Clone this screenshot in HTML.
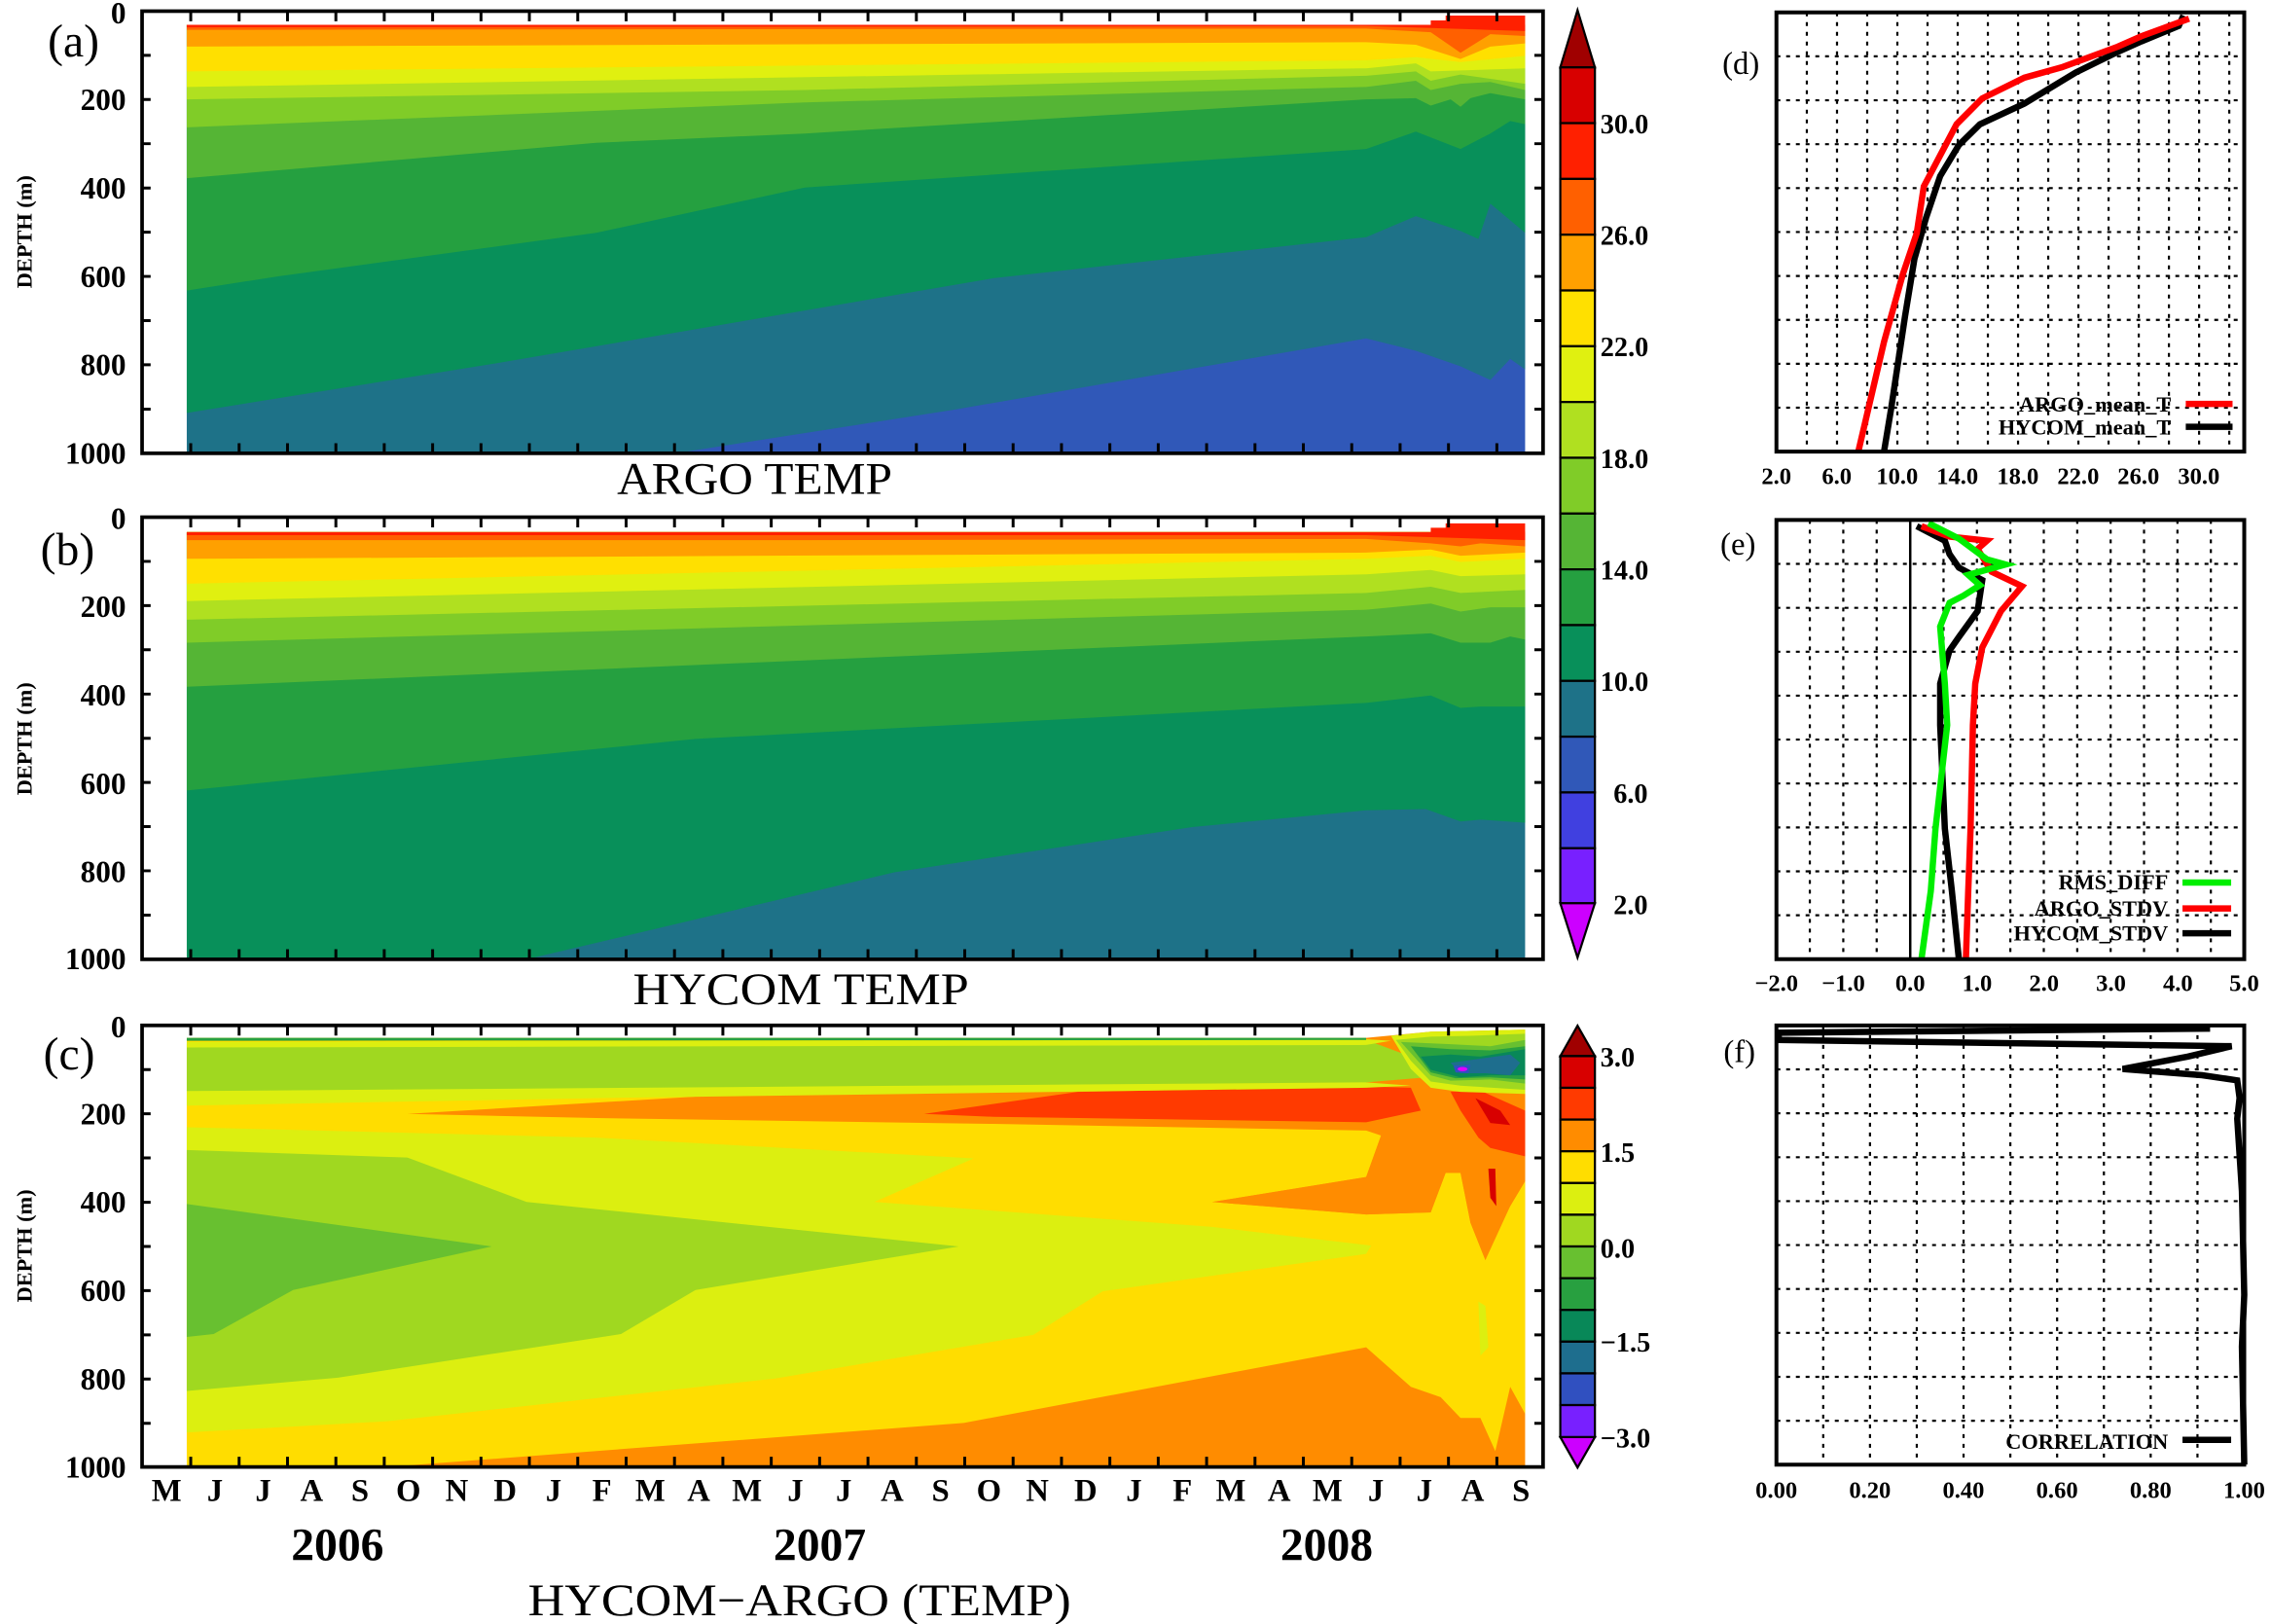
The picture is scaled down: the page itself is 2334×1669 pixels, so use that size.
<!DOCTYPE html>
<html><head><meta charset="utf-8"><style>
html,body{margin:0;padding:0;background:#fff;}
svg{display:block;}
text{font-family:"Liberation Serif",serif;font-weight:bold;fill:#000;}
</style></head><body>
<svg width="2334" height="1669" viewBox="0 0 1568 1121" preserveAspectRatio="none" xmlns="http://www.w3.org/2000/svg">
<rect x="0" y="0" width="1568" height="1121" fill="#fff"/>

<g transform="matrix(0.686,0,0,0.4286,0,0)">
 <rect x="188" y="40" width="1347" height="690" fill="#3058b8"/>
 <polygon fill="#1e7288" points="188,40 1535,40 1535,595 1520,578 1500,612 1470,590 1425,565 1375,545 960,660 680,730 188,730"/>
 <polygon fill="#08905a" points="188,40 1535,40 1535,375 1500,328 1488,385 1470,372 1425,348 1375,382 1000,448 500,585 188,665"/>
 <polygon fill="#25a040" points="188,40 1535,40 1535,200 1520,195 1500,215 1470,240 1425,212 1375,240 810,302 600,375 280,445 188,468"/>
 <polygon fill="#55b535" points="188,40 1535,40 1535,160 1500,150 1480,158 1470,172 1460,160 1440,170 1425,158 1375,160 810,215 600,230 188,287"/>
 <polygon fill="#80cc28" points="188,40 1535,40 1535,145 1500,132 1470,135 1440,145 1425,130 1375,140 810,165 188,205"/>
 <polygon fill="#b0e020" points="188,40 1535,40 1535,135 1470,120 1440,130 1425,115 1375,122 810,145 188,160"/>
 <polygon fill="#e0f010" points="188,40 1535,40 1535,110 1440,115 1425,102 1375,110 188,140"/>
 <polygon fill="#ffe000" points="188,40 1535,40 1535,90 1470,100 1425,92 1375,97 188,115"/>
 <polygon fill="#ffa000" points="188,40 1535,40 1535,70 1500,75 1470,95 1425,72 1375,68 188,75"/>
 <polygon fill="#ff6000" points="188,40 1535,40 1535,58 1500,55 1470,85 1440,52 1375,46 188,48"/>
 <polygon fill="#ff2000" points="188,40 1440,40 1440,33 1455,33 1455,25 1535,25 1535,50 1440,45 1375,42 188,44"/>

 <rect x="188" y="857" width="1347" height="688" fill="#1e7288"/>
 <polygon fill="#08905a" points="188,857 1535,857 1535,1325 1490,1320 1470,1323 1435,1303 1375,1305 1200,1332 900,1405 530,1545 188,1545"/>
 <polygon fill="#25a040" points="188,857 1535,857 1535,1138 1490,1138 1470,1140 1440,1120 1375,1132 700,1190 188,1273"/>
 <polygon fill="#55b535" points="188,857 1535,857 1535,1030 1520,1025 1500,1035 1470,1035 1440,1020 1375,1025 188,1106"/>
 <polygon fill="#80cc28" points="188,857 1535,857 1535,978 1500,978 1470,985 1440,972 1375,982 188,1035"/>
 <polygon fill="#b0e020" points="188,857 1535,857 1535,950 1470,955 1440,945 1375,955 188,998"/>
 <polygon fill="#e0f010" points="188,857 1535,857 1535,925 1470,928 1440,918 1375,925 188,968"/>
 <polygon fill="#ffe000" points="188,857 1535,857 1535,900 1470,905 1440,895 1375,900 188,940"/>
 <polygon fill="#ffa000" points="188,857 1535,857 1535,890 1470,895 1440,885 1375,890 188,900"/>
 <polygon fill="#ff6000" points="188,857 1535,857 1535,880 1490,875 1470,880 1440,875 1375,868 810,870 188,870"/>
 <polygon fill="#ff2000" points="188,857 1440,857 1440,850 1455,850 1455,843 1535,843 1535,870 1440,865 1375,862 188,862"/>
</g>

<g transform="matrix(0.686,0,0,0.2867,0,672)">
 <polygon fill="#ff8c00" points="188,155 1375,155 1440,140 1535,135 1535,1188 188,1188"/>
 <polygon fill="#ffdd00" points="188,155 1375,155 1375,330 1390,390 1375,490 1220,550 1375,580 1440,575 1455,480 1470,480 1480,600 1495,690 1510,600 1520,560 1535,500 1535,1060 1520,995 1505,1150 1490,1070 1470,1070 1450,1020 1420,995 1375,900 970,1082 390,1188 188,1188"/>
 <polygon fill="#dcef10" points="188,370 600,395 980,445 880,550 1220,610 1380,655 1375,675 1110,765 1040,870 780,975 390,1078 188,1105"/>
 <polygon fill="#ff8c00" points="410,338 780,285 1375,270 1430,260 1535,290 1535,500 1520,560 1495,690 1480,600 1470,480 1455,480 1440,575 1375,580 1220,550 1375,490 1390,390 1375,378 1000,362 600,348"/>
 <polygon fill="#ff3a00" points="930,338 1085,285 1375,272 1420,275 1430,330 1375,358 1000,345"/>
 <polygon fill="#ff3a00" points="1460,285 1490,282 1535,330 1535,440 1500,420 1488,395 1470,330"/>
 <polygon fill="#d80000" points="1485,300 1510,330 1520,365 1500,360"/>
 <polygon fill="#d80000" points="1498,470 1505,470 1506,560 1500,540"/>
 <polygon fill="#dcef10" points="188,280 1375,262 1420,270 1375,275 600,300 188,318"/>
 <polygon fill="#a0d820" points="188,170 1375,160 1420,200 1435,250 1375,262 188,283"/>
 <polygon fill="#dcef10" points="188,165 1375,158 1400,162 1375,172 188,178"/>
 <polygon fill="#28a040" points="188,155 1375,155 1375,160 188,162"/>
 <polygon fill="#a0d820" points="188,425 410,443 530,550 965,657 700,762 625,868 340,973 188,1005"/>
 <polygon fill="#68c030" points="188,555 495,657 295,762 215,868 188,875"/>
 <polygon fill="#dcef10" points="1488,790 1495,800 1498,900 1490,920"/>
 <polygon fill="#dcef10" points="1400,150 1440,140 1535,135 1535,290 1470,285 1440,275 1420,230"/>
 <polygon fill="#a0d820" points="1405,160 1440,152 1480,150 1535,145 1535,280 1470,270 1440,260 1420,210"/>
 <polygon fill="#68c030" points="1410,165 1460,170 1500,175 1535,160 1535,265 1500,255 1460,258 1440,245"/>
 <polygon fill="#28a040" points="1420,175 1460,182 1500,185 1535,175 1535,255 1500,250 1465,252 1440,238"/>
 <polygon fill="#088858" points="1430,200 1460,195 1490,200 1535,182 1535,245 1500,245 1470,250 1440,232"/>
 <polygon fill="#1e6e8e" points="1460,215 1490,205 1520,195 1530,215 1520,245 1495,240 1470,240"/>
 <polygon fill="#3050c0" points="1463,222 1480,220 1478,240 1465,238"/>
 <circle cx="1472" cy="230" r="5" fill="#e000ff"/>
</g>

<g fill="none" stroke="#000" stroke-width="2.5">
 <rect x="98.1" y="7.7" width="967.3" height="305.2"/>
 <rect x="98.1" y="357" width="967.3" height="305.2"/>
 <rect x="98.1" y="707.8" width="967.3" height="304.8"/>
</g>
<g stroke="#000" stroke-width="2">
 <path id="mt" d="M131.7,7.7v7 M165.1,7.7v7 M198.5,7.7v7 M231.9,7.7v7 M265.3,7.7v7 M298.7,7.7v7 M332.1,7.7v7 M365.5,7.7v7 M398.9,7.7v7 M432.3,7.7v7 M465.7,7.7v7 M499.1,7.7v7 M532.5,7.7v7 M565.9,7.7v7 M599.3,7.7v7 M632.7,7.7v7 M666.1,7.7v7 M699.5,7.7v7 M732.9,7.7v7 M766.3,7.7v7 M799.7,7.7v7 M833.1,7.7v7 M866.5,7.7v7 M899.9,7.7v7 M933.3,7.7v7 M966.7,7.7v7 M1000.1,7.7v7 M1033.5,7.7v7"/>
 <path id="mb" d="M131.7,312.9v-7 M165.1,312.9v-7 M198.5,312.9v-7 M231.9,312.9v-7 M265.3,312.9v-7 M298.7,312.9v-7 M332.1,312.9v-7 M365.5,312.9v-7 M398.9,312.9v-7 M432.3,312.9v-7 M465.7,312.9v-7 M499.1,312.9v-7 M532.5,312.9v-7 M565.9,312.9v-7 M599.3,312.9v-7 M632.7,312.9v-7 M666.1,312.9v-7 M699.5,312.9v-7 M732.9,312.9v-7 M766.3,312.9v-7 M799.7,312.9v-7 M833.1,312.9v-7 M866.5,312.9v-7 M899.9,312.9v-7 M933.3,312.9v-7 M966.7,312.9v-7 M1000.1,312.9v-7 M1033.5,312.9v-7"/>
 <use href="#mt" transform="translate(0,349.3)"/>
 <use href="#mb" transform="translate(0,349.3)"/>
 <use href="#mt" transform="translate(0,700.1)"/>
 <use href="#mb" transform="translate(0,699.7)"/>
 <path id="yt" d="M98,38.2h6 M98,68.7h6 M98,99.2h6 M98,129.8h6 M98,160.3h6 M98,190.8h6 M98,221.3h6 M98,251.8h6 M98,282.4h6 M1065.4,38.2h-6 M1065.4,68.7h-6 M1065.4,99.2h-6 M1065.4,129.8h-6 M1065.4,160.3h-6 M1065.4,190.8h-6 M1065.4,221.3h-6 M1065.4,251.8h-6 M1065.4,282.4h-6"/>
 <use href="#yt" transform="translate(0,349.3)"/>
 <use href="#yt" transform="translate(0,700.1)"/>
</g>

<g font-size="21" text-anchor="end">
 <text x="87" y="16">0</text><text x="87" y="76">200</text><text x="87" y="137">400</text><text x="87" y="198">600</text><text x="87" y="259">800</text><text x="87" y="320">1000</text>
 <text x="87" y="365">0</text><text x="87" y="426">200</text><text x="87" y="487">400</text><text x="87" y="548">600</text><text x="87" y="609">800</text><text x="87" y="669">1000</text>
 <text x="87" y="716">0</text><text x="87" y="776">200</text><text x="87" y="837">400</text><text x="87" y="898">600</text><text x="87" y="959">800</text><text x="87" y="1020">1000</text>
</g>
<g font-size="15">
 <text transform="translate(22,160) rotate(-90)" text-anchor="middle">DEPTH (m)</text>
 <text transform="translate(22,510) rotate(-90)" text-anchor="middle">DEPTH (m)</text>
 <text transform="translate(22,860) rotate(-90)" text-anchor="middle">DEPTH (m)</text>
</g>
<g font-size="32">
 <text x="33" y="39" style="font-weight:normal">(a)</text>
 <text x="28" y="390" style="font-weight:normal">(b)</text>
 <text x="30" y="738" style="font-weight:normal">(c)</text>
</g>
<g font-size="31" text-anchor="middle">
 <text x="521" y="341" style="font-weight:normal" textLength="190" lengthAdjust="spacingAndGlyphs">ARGO TEMP</text>
 <text x="553" y="693" style="font-weight:normal" textLength="232" lengthAdjust="spacingAndGlyphs">HYCOM TEMP</text>
 <text x="552" y="1115" style="font-weight:normal" textLength="375" lengthAdjust="spacingAndGlyphs">HYCOM−ARGO (TEMP)</text>
</g>
<g font-size="22" text-anchor="middle">
 <text x="115" y="1036">M</text><text x="148.4" y="1036">J</text><text x="181.8" y="1036">J</text><text x="215.2" y="1036">A</text><text x="248.6" y="1036">S</text><text x="282" y="1036">O</text><text x="315.4" y="1036">N</text><text x="348.8" y="1036">D</text><text x="382.2" y="1036">J</text><text x="415.6" y="1036">F</text><text x="449" y="1036">M</text><text x="482.4" y="1036">A</text><text x="515.8" y="1036">M</text><text x="549.2" y="1036">J</text><text x="582.6" y="1036">J</text><text x="616" y="1036">A</text><text x="649.4" y="1036">S</text><text x="682.8" y="1036">O</text><text x="716.2" y="1036">N</text><text x="749.6" y="1036">D</text><text x="783" y="1036">J</text><text x="816.4" y="1036">F</text><text x="849.8" y="1036">M</text><text x="883.2" y="1036">A</text><text x="916.6" y="1036">M</text><text x="950" y="1036">J</text><text x="983.4" y="1036">J</text><text x="1016.8" y="1036">A</text><text x="1050.2" y="1036">S</text>
</g>
<g font-size="32" text-anchor="middle">
 <text x="233" y="1077">2006</text><text x="566" y="1077">2007</text><text x="916" y="1077">2008</text>
</g>

<g stroke="#000" stroke-width="1.5">
 <polygon points="1077.3,46.5 1089.2,7 1101.2,46.5" fill="#a00000"/>
 <rect x="1077.3" y="46.5" width="23.9" height="38.5" fill="#d80000"/>
 <rect x="1077.3" y="85" width="23.9" height="38.5" fill="#ff2000"/>
 <rect x="1077.3" y="123.5" width="23.9" height="38.5" fill="#ff6000"/>
 <rect x="1077.3" y="162" width="23.9" height="38.5" fill="#ffa000"/>
 <rect x="1077.3" y="200.5" width="23.9" height="38.5" fill="#ffe000"/>
 <rect x="1077.3" y="239" width="23.9" height="38.5" fill="#e0f010"/>
 <rect x="1077.3" y="277.5" width="23.9" height="38.5" fill="#b0e020"/>
 <rect x="1077.3" y="316" width="23.9" height="38.5" fill="#80cc28"/>
 <rect x="1077.3" y="354.5" width="23.9" height="38.5" fill="#55b535"/>
 <rect x="1077.3" y="393" width="23.9" height="38.5" fill="#25a040"/>
 <rect x="1077.3" y="431.5" width="23.9" height="38.5" fill="#08905a"/>
 <rect x="1077.3" y="470" width="23.9" height="38.5" fill="#1e7288"/>
 <rect x="1077.3" y="508.5" width="23.9" height="38.5" fill="#3058b8"/>
 <rect x="1077.3" y="547" width="23.9" height="38.5" fill="#4040e0"/>
 <rect x="1077.3" y="585.5" width="23.9" height="38" fill="#7820ff"/>
 <polygon points="1077.3,623.5 1089.2,661 1101.2,623.5" fill="#cc00ff"/>
</g>
<g font-size="19">
 <text x="1105" y="92">30.0</text><text x="1105" y="169">26.0</text><text x="1105" y="246">22.0</text><text x="1105" y="323">18.0</text><text x="1105" y="400">14.0</text><text x="1105" y="477">10.0</text><text x="1114" y="554">6.0</text><text x="1114" y="631">2.0</text>
</g>
<g stroke="#000" stroke-width="1.5">
 <polygon points="1077.3,729 1089.2,708 1101.2,729" fill="#a00000"/>
 <rect x="1077.3" y="729" width="23.9" height="21.9" fill="#d80000"/>
 <rect x="1077.3" y="750.9" width="23.9" height="21.9" fill="#ff3a00"/>
 <rect x="1077.3" y="772.8" width="23.9" height="21.9" fill="#ff8c00"/>
 <rect x="1077.3" y="794.7" width="23.9" height="21.9" fill="#ffdd00"/>
 <rect x="1077.3" y="816.6" width="23.9" height="21.9" fill="#dcef10"/>
 <rect x="1077.3" y="838.5" width="23.9" height="21.9" fill="#a0d820"/>
 <rect x="1077.3" y="860.4" width="23.9" height="21.9" fill="#68c030"/>
 <rect x="1077.3" y="882.3" width="23.9" height="21.9" fill="#28a040"/>
 <rect x="1077.3" y="904.2" width="23.9" height="21.9" fill="#088858"/>
 <rect x="1077.3" y="926.1" width="23.9" height="21.9" fill="#1e6e8e"/>
 <rect x="1077.3" y="948" width="23.9" height="21.9" fill="#3050c0"/>
 <rect x="1077.3" y="969.9" width="23.9" height="22.1" fill="#7820ff"/>
 <polygon points="1077.3,992 1089.2,1013 1101.2,992" fill="#cc00ff"/>
</g>
<g font-size="19">
 <text x="1105" y="736">3.0</text><text x="1105" y="802">1.5</text><text x="1105" y="868">0.0</text><text x="1105" y="933">−1.5</text><text x="1105" y="999">−3.0</text>
</g>

<g transform="matrix(0.323,0,0,0.715,1061.8,0)" fill="none">
 <g stroke="#000" stroke-width="2.2" stroke-dasharray="4,6">
  <path vector-effect="non-scaling-stroke" d="M575,12V436 M639.5,12V436 M704,12V436 M768.5,12V436 M833,12V436 M897.5,12V436 M962,12V436 M1026.5,12V436 M1091,12V436 M1155.5,12V436 M1220,12V436 M1284.5,12V436 M1349,12V436 M1413.5,12V436 M1478,12V436"/>
  <path vector-effect="non-scaling-stroke" d="M510,54.4H1510 M510,96.8H1510 M510,139.2H1510 M510,181.6H1510 M510,224H1510 M510,266.4H1510 M510,308.8H1510 M510,351.2H1510 M510,393.6H1510"/>
  <path vector-effect="non-scaling-stroke" d="M581.4,502V926 M652.9,502V926 M724.3,502V926 M867.2,502V926 M938.6,502V926 M1010,502V926 M1081.5,502V926 M1153,502V926 M1224.4,502V926 M1295.8,502V926 M1367.2,502V926 M1438.6,502V926"/>
  <path vector-effect="non-scaling-stroke" d="M510,544.4H1510 M510,586.8H1510 M510,629.2H1510 M510,671.6H1510 M510,714H1510 M510,756.4H1510 M510,798.8H1510 M510,841.2H1510 M510,883.6H1510"/>
  <path vector-effect="non-scaling-stroke" d="M610,990V1414 M710,990V1414 M810,990V1414 M910,990V1414 M1010,990V1414 M1110,990V1414 M1210,990V1414 M1310,990V1414 M1410,990V1414"/>
  <path vector-effect="non-scaling-stroke" d="M510,1032.4H1510 M510,1074.8H1510 M510,1117.2H1510 M510,1159.6H1510 M510,1202H1510 M510,1244.4H1510 M510,1286.8H1510 M510,1329.2H1510 M510,1371.6H1510"/>
 </g>
 <path vector-effect="non-scaling-stroke" stroke="#000" stroke-width="2.5" d="M796,502V926"/>
 <polyline vector-effect="non-scaling-stroke" stroke="#000" stroke-width="6.5" points="1380,15 1370,25 1290,40 1240,50 1150,70 1040,100 945,120 900,140 860,170 830,210 805,250 785,305 770,350 755,395 740,436"/>
 <polyline vector-effect="non-scaling-stroke" stroke="#ff0000" stroke-width="6.5" points="1392,18 1350,25 1290,35 1240,45 1180,55 1120,65 1040,75 950,95 895,120 860,150 825,180 810,225 780,265 740,330 685,436"/>
 <polyline vector-effect="non-scaling-stroke" stroke="#000" stroke-width="6.5" points="810,508 870,522 880,535 900,548 950,560 940,590 900,615 880,628 860,660 860,700 870,800 885,860 900,926"/>
 <polyline vector-effect="non-scaling-stroke" stroke="#ff0000" stroke-width="6.5" points="820,508 880,518 960,522 940,530 970,552 1035,566 990,590 950,625 935,660 930,700 925,800 920,860 915,926"/>
 <polyline vector-effect="non-scaling-stroke" stroke="#00ee00" stroke-width="6.5" points="835,505 900,520 960,540 1000,545 920,555 945,565 910,575 880,582 860,605 870,660 875,700 860,760 850,800 840,860 820,926"/>
 <polyline vector-effect="non-scaling-stroke" stroke="#000" stroke-width="6.5" points="1437,993 515,997 515,1004 1483,1010 1390,1020 1250,1032 1420,1038 1495,1043 1500,1060 1495,1080 1505,1150 1510,1250 1505,1300 1510,1414"/>
 <g stroke-width="6.5">
  <path vector-effect="non-scaling-stroke" stroke="#ff0000" d="M1385,390H1485"/>
  <path vector-effect="non-scaling-stroke" stroke="#000" d="M1385,412H1485"/>
  <path vector-effect="non-scaling-stroke" stroke="#00ee00" d="M1378,852H1482"/>
  <path vector-effect="non-scaling-stroke" stroke="#ff0000" d="M1378,877H1482"/>
  <path vector-effect="non-scaling-stroke" stroke="#000" d="M1378,901H1482"/>
  <path vector-effect="non-scaling-stroke" stroke="#000" d="M1378,1390H1482"/>
 </g>
 <g stroke="#000" stroke-width="4">
  <rect vector-effect="non-scaling-stroke" x="510" y="12" width="1000" height="424"/>
  <rect vector-effect="non-scaling-stroke" x="510" y="502" width="1000" height="424"/>
  <rect vector-effect="non-scaling-stroke" x="510" y="990" width="1000" height="424"/>
 </g>
</g>
<g font-size="15" text-anchor="end">
 <text x="1499" y="284">ARGO_mean_T</text>
 <text x="1499" y="300">HYCOM_mean_T</text>
 <text x="1497" y="614">RMS_DIFF</text>
 <text x="1497" y="632">ARGO_STDV</text>
 <text x="1497" y="649">HYCOM_STDV</text>
 <text x="1497" y="1000">CORRELATION</text>
</g>
<g font-size="16.5" text-anchor="middle">
 <text x="1226.5" y="334">2.0</text><text x="1268.2" y="334">6.0</text><text x="1309.9" y="334">10.0</text><text x="1351.5" y="334">14.0</text><text x="1393.2" y="334">18.0</text><text x="1434.9" y="334">22.0</text><text x="1476.5" y="334">26.0</text><text x="1518.2" y="334">30.0</text>
 <text x="1226.5" y="684">−2.0</text><text x="1272.7" y="684">−1.0</text><text x="1318.9" y="684">0.0</text><text x="1365.1" y="684">1.0</text><text x="1411.3" y="684">2.0</text><text x="1457.5" y="684">3.0</text><text x="1503.7" y="684">4.0</text><text x="1549.5" y="684">5.0</text>
 <text x="1226.5" y="1034">0.00</text><text x="1291.1" y="1034">0.20</text><text x="1355.7" y="1034">0.40</text><text x="1420.3" y="1034">0.60</text><text x="1484.9" y="1034">0.80</text><text x="1549.5" y="1034">1.00</text>
</g>
<g font-size="22" text-anchor="middle">
 <text x="1202" y="51" style="font-weight:normal">(d)</text>
 <text x="1200" y="383" style="font-weight:normal">(e)</text>
 <text x="1201" y="733" style="font-weight:normal">(f)</text>
</g>
</svg>
</body></html>
